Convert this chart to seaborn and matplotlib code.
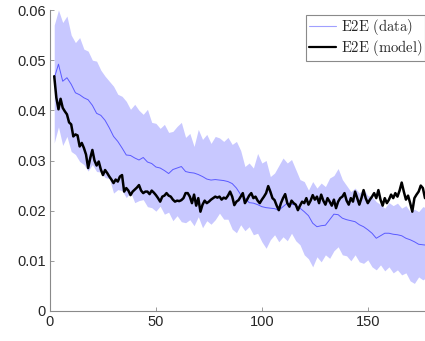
import numpy as np
import pandas as pd
import matplotlib
matplotlib.use("Agg")
import matplotlib.pyplot as plt
import seaborn as sns
from matplotlib.lines import Line2D
from matplotlib.ticker import FuncFormatter

# ---- data ----
x_data = [2, 4, 6, 8, 10, 12, 14, 16, 18, 20, 22, 24, 26, 28, 30, 32, 34, 36, 38, 40,
          42, 44, 46, 48, 50, 52, 54, 56, 58, 60, 62, 64, 66, 68, 70, 72, 74, 76, 78, 80,
          82, 84, 86, 88, 90, 92, 94, 96, 98, 100, 102, 104, 106, 108, 110, 112, 114, 116, 118, 120,
          122, 124, 126, 128, 130, 132, 134, 136, 138, 140, 142, 144, 146, 148, 150, 152, 154, 156, 158, 160,
          162, 164, 166, 168, 170, 172, 174, 176, 178]
data_mean = [0.0464, 0.0492, 0.0458, 0.0465, 0.0452, 0.0435, 0.0431, 0.0425, 0.0421, 0.0410,
             0.0394, 0.0390, 0.0380, 0.0365, 0.0348, 0.0338, 0.0325, 0.0311, 0.0310, 0.0305,
             0.0301, 0.0306, 0.0297, 0.0294, 0.0287, 0.0285, 0.0280, 0.0274, 0.0282, 0.0285,
             0.0288, 0.0278, 0.0276, 0.0275, 0.0272, 0.0268, 0.0263, 0.0261, 0.0262, 0.0261,
             0.0260, 0.0258, 0.0254, 0.0245, 0.0232, 0.0225, 0.0216, 0.0215, 0.0212, 0.0208,
             0.0206, 0.0205, 0.0204, 0.0201, 0.0208, 0.0215, 0.0213, 0.0211, 0.0205, 0.0198,
             0.0190, 0.0175, 0.0168, 0.0170, 0.0171, 0.0182, 0.0193, 0.0192, 0.0185, 0.0182,
             0.0180, 0.0178, 0.0172, 0.0168, 0.0162, 0.0155, 0.0145, 0.0150, 0.0155, 0.0155,
             0.0153, 0.0152, 0.0150, 0.0145, 0.0142, 0.0138, 0.0133, 0.0132, 0.0131]
data_upper = [0.0570, 0.0600, 0.0575, 0.0588, 0.0550, 0.0535, 0.0545, 0.0522, 0.0518, 0.0500,
              0.0498, 0.0480, 0.0468, 0.0458, 0.0448, 0.0432, 0.0428, 0.0418, 0.0402, 0.0412,
              0.0400, 0.0392, 0.0402, 0.0376, 0.0374, 0.0364, 0.0372, 0.0356, 0.0358, 0.0368,
              0.0376, 0.0346, 0.0354, 0.0328, 0.0362, 0.0342, 0.0352, 0.0334, 0.0348, 0.0345,
              0.0338, 0.0346, 0.0332, 0.0338, 0.0320, 0.0288, 0.0295, 0.0285, 0.0314, 0.0295,
              0.0300, 0.0268, 0.0275, 0.0290, 0.0305, 0.0295, 0.0302, 0.0282, 0.0262, 0.0258,
              0.0241, 0.0258, 0.0245, 0.0255, 0.0248, 0.0265, 0.0270, 0.0284, 0.0262, 0.0250,
              0.0238, 0.0245, 0.0235, 0.0243, 0.0230, 0.0228, 0.0218, 0.0212, 0.0205, 0.0216,
              0.0210, 0.0215, 0.0205, 0.0210, 0.0198, 0.0203, 0.0198, 0.0208, 0.0205]
data_lower = [0.0335, 0.0367, 0.0330, 0.0348, 0.0318, 0.0312, 0.0298, 0.0292, 0.0279, 0.0292,
              0.0278, 0.0277, 0.0266, 0.0264, 0.0235, 0.0242, 0.0240, 0.0226, 0.0237, 0.0216,
              0.0220, 0.0222, 0.0208, 0.0206, 0.0199, 0.0209, 0.0193, 0.0197, 0.0180, 0.0190,
              0.0178, 0.0176, 0.0182, 0.0170, 0.0188, 0.0166, 0.0180, 0.0173, 0.0182, 0.0195,
              0.0183, 0.0183, 0.0163, 0.0156, 0.0172, 0.0160, 0.0168, 0.0152, 0.0155, 0.0138,
              0.0125, 0.0142, 0.0152, 0.0138, 0.0148, 0.0140, 0.0155, 0.0140, 0.0132, 0.0112,
              0.0104, 0.0088, 0.0108, 0.0098, 0.0112, 0.0105, 0.0120, 0.0128, 0.0112, 0.0110,
              0.0100, 0.0112, 0.0098, 0.0095, 0.0102, 0.0088, 0.0082, 0.0092, 0.0080, 0.0088,
              0.0076, 0.0082, 0.0072, 0.0076, 0.0060, 0.0055, 0.0068, 0.0062, 0.0068]

x_model = list(range(2, 178))
model = [0.0468, 0.0425, 0.0402, 0.0423, 0.0405, 0.0398, 0.0392, 0.0376, 0.0372, 0.0348,
         0.0352, 0.0350, 0.0328, 0.0335, 0.0325, 0.0312, 0.0285, 0.0305, 0.0321, 0.0300,
         0.0290, 0.0298, 0.0282, 0.0271, 0.0281, 0.0275, 0.0268, 0.0262, 0.0255, 0.0262,
         0.0258, 0.0268, 0.0271, 0.0238, 0.0245, 0.0240, 0.0231, 0.0238, 0.0242, 0.0246,
         0.0251, 0.0240, 0.0235, 0.0238, 0.0238, 0.0233, 0.0240, 0.0236, 0.0231, 0.0225,
         0.0218, 0.0228, 0.0230, 0.0235, 0.0230, 0.0228, 0.0222, 0.0218, 0.0220, 0.0219,
         0.0221, 0.0225, 0.0235, 0.0235, 0.0228, 0.0215, 0.0232, 0.0210, 0.0225, 0.0198,
         0.0212, 0.0220, 0.0215, 0.0218, 0.0222, 0.0225, 0.0228, 0.0226, 0.0228, 0.0222,
         0.0226, 0.0224, 0.0230, 0.0238, 0.0228, 0.0211, 0.0218, 0.0221, 0.0228, 0.0235,
         0.0215, 0.0222, 0.0230, 0.0235, 0.0225, 0.0228, 0.0220, 0.0215, 0.0222, 0.0228,
         0.0235, 0.0249, 0.0238, 0.0225, 0.0221, 0.0210, 0.0201, 0.0215, 0.0225, 0.0233,
         0.0215, 0.0208, 0.0220, 0.0215, 0.0212, 0.0201, 0.0210, 0.0218, 0.0215, 0.0225,
         0.0212, 0.0220, 0.0231, 0.0222, 0.0228, 0.0215, 0.0232, 0.0220, 0.0212, 0.0225,
         0.0218, 0.0210, 0.0222, 0.0205, 0.0218, 0.0225, 0.0228, 0.0235, 0.0220, 0.0212,
         0.0225, 0.0218, 0.0238, 0.0225, 0.0212, 0.0225, 0.0241, 0.0225, 0.0215, 0.0222,
         0.0228, 0.0235, 0.0225, 0.0241, 0.0222, 0.0210, 0.0225, 0.0215, 0.0222, 0.0232,
         0.0225, 0.0235, 0.0228, 0.0240, 0.0256, 0.0238, 0.0222, 0.0230, 0.0215, 0.0198,
         0.0225, 0.0232, 0.0238, 0.0250, 0.0245, 0.0225]

x_ticks = [0, 50, 100, 150]
y_ticks = [0, 0.01, 0.02, 0.03, 0.04, 0.05, 0.06]
legend_labels = ["E2E (data)", "E2E (model)"]

# ---- style ----
sns.set_style("white")
plt.rcParams["font.family"] = ["Liberation Sans", "DejaVu Sans"]
plt.rcParams["mathtext.fontset"] = "cm"

fig = plt.figure(figsize=(4.25, 3.41), dpi=100)
ax = fig.add_axes([50 / 425, 30 / 341, 375 / 425, 301 / 341])

band_color = "#c8c8ff"
data_color = "#5a5aff"

df_data = pd.DataFrame({"x": x_data, "mean": data_mean, "lo": data_lower, "hi": data_upper})
df_model = pd.DataFrame({"x": x_model, "y": model})

ax.fill_between(df_data["x"], df_data["lo"], df_data["hi"], color=band_color, lw=0, zorder=1)
sns.lineplot(data=df_data, x="x", y="mean", ax=ax, color=data_color, lw=0.7, zorder=2)
sns.lineplot(data=df_model, x="x", y="y", ax=ax, color="black", lw=1.8, zorder=3)

ax.set_xlim(0, 177)
ax.set_ylim(0, 0.06)
ax.set_xticks(x_ticks)
ax.set_yticks(y_ticks)
ax.yaxis.set_major_formatter(FuncFormatter(lambda v, p: "0" if v == 0 else f"{v:.2f}"))
ax.set_xlabel("")
ax.set_ylabel("")

for s in ["top", "right"]:
    ax.spines[s].set_visible(False)
for s in ["left", "bottom"]:
    ax.spines[s].set_color("#8a8a8a")
    ax.spines[s].set_linewidth(0.8)
ax.tick_params(direction="in", length=3, width=0.6, color="#8a8a8a",
               labelsize=10.5, labelcolor="#262626", pad=3)
ax.tick_params(axis="both", which="both", bottom=True, left=True)

handles = [Line2D([], [], color="#a0a0ff", lw=0.8),
           Line2D([], [], color="black", lw=1.6)]
mt_labels = [r"$\mathrm{" + t.replace(" ", r"\ ") + "}$" for t in legend_labels]
leg = ax.legend(handles, mt_labels,
                loc="upper right", bbox_to_anchor=(1.0, 0.985),
                fontsize=10.5, frameon=True, fancybox=False, framealpha=1,
                edgecolor="#8a8a8a", handlelength=1.9, handletextpad=0.3,
                borderpad=0.2, labelspacing=0.02, borderaxespad=0.0)
leg.get_frame().set_linewidth(0.8)

fig.savefig("out.png", dpi=100)
